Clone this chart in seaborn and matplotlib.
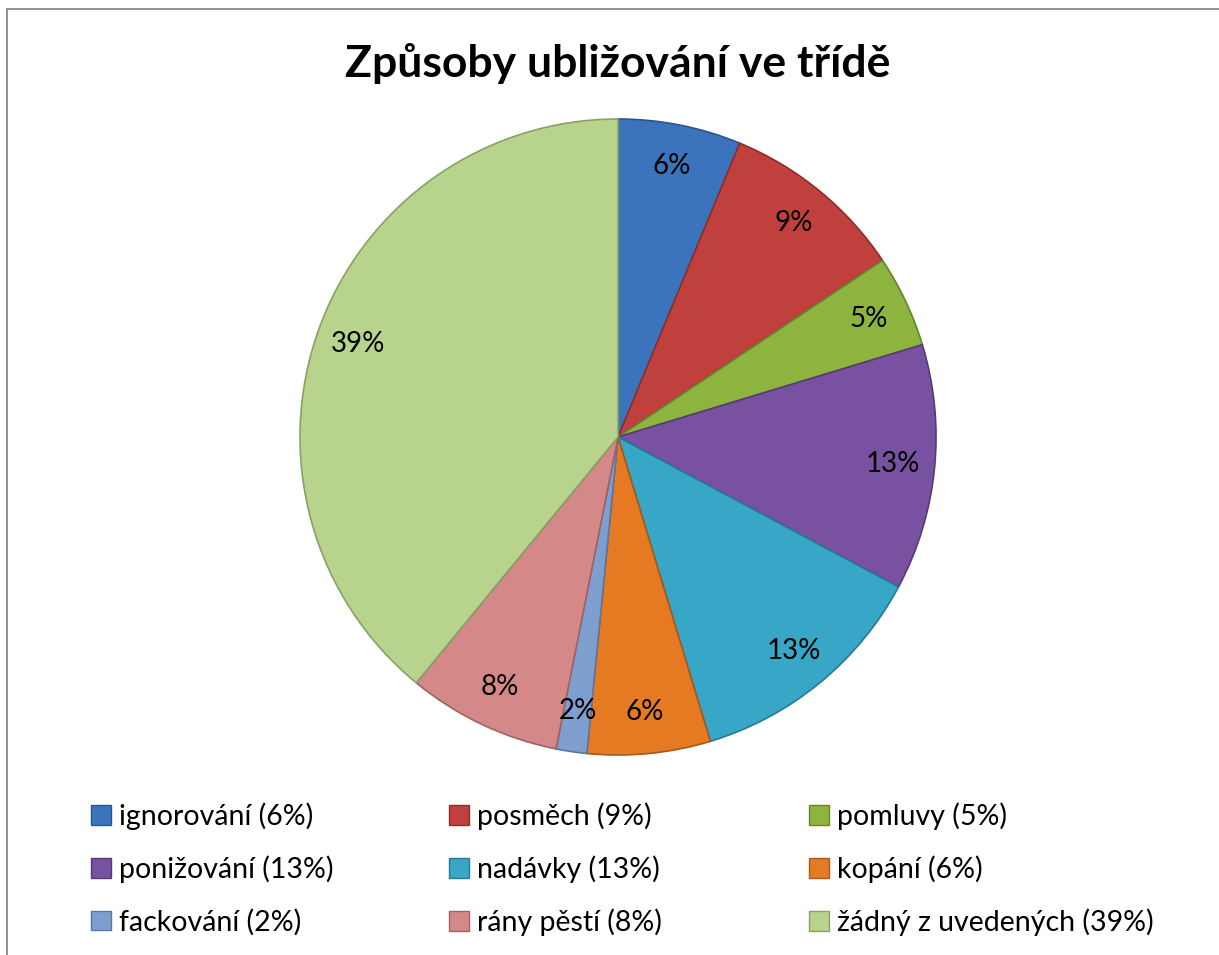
import math
import matplotlib
matplotlib.use("Agg")
import matplotlib.pyplot as plt
from matplotlib.patches import Patch
from matplotlib.lines import Line2D
import seaborn as sns

# answers out of 64 pupils (clockwise from top)
categories = ["ignorování", "posměch", "pomluvy", "ponižování", "nadávky",
              "kopání", "fackování", "rány pěstí", "žádný z uvedených"]
counts = [4, 6, 3, 8, 8, 4, 1, 5, 25]
colors = ["#3b74bd", "#c0403d", "#8db43e", "#7852a0", "#38a6c6",
          "#e57a22", "#7f9ed0", "#d48988", "#b8d48c"]
edges = ["#2a5690", "#8e2e2c", "#66842c", "#563a75", "#267a93",
         "#a9591a", "#5c76a0", "#9e6463", "#8aa066"]

sns.set_theme(style="white")
plt.rcParams["font.family"] = ["Lato", "DejaVu Sans"]
plt.rcParams["text.color"] = "black"

total = sum(counts)
pct = [math.floor(c / total * 100 + 0.5) for c in counts]
legend_labels = [f"{name} ({p}%)" for name, p in zip(categories, pct)]

fig = plt.figure(figsize=(12.19, 9.55), dpi=100)
ax = fig.add_axes([0.2461, 0.2094, 0.5218, 0.666])

wedges, texts, autotexts = ax.pie(
    counts, colors=colors, startangle=90, counterclock=False,
    autopct=lambda p: f"{math.floor(p + 0.5)}%", pctdistance=0.87,
    wedgeprops=dict(linewidth=1.2),
    textprops=dict(fontsize=20, color="black"))
for w, ec in zip(wedges, edges):
    w.set_edgecolor(ec)
ax.set_xlim(-1, 1)
ax.set_ylim(-1, 1)

fig.text(0.507, 0.934, "Způsoby ubližování ve třídě", ha="center", va="center",
         fontsize=32, fontweight="bold", color="black")

# legend: three equal-width columns, rows run left to right
col_x = [0.065, 0.359, 0.654]
for j in range(3):
    idx = [j, j + 3, j + 6]
    handles = [Patch(facecolor=colors[i], edgecolor=edges[i], linewidth=1) for i in idx]
    fig.legend(handles, [legend_labels[i] for i in idx], loc="upper left",
               bbox_to_anchor=(col_x[j], 0.172), frameon=False, fontsize=20.5,
               labelcolor="black", handlelength=0.7, handleheight=0.7,
               handletextpad=0.3, labelspacing=0.9, borderaxespad=0)

# chart border (partly cut off at right and bottom)
fig.add_artist(Line2D([6.5 / 1219, 6.5 / 1219], [0, 1 - 9 / 955], color="#888888", linewidth=1.3))
fig.add_artist(Line2D([6.5 / 1219, 1], [1 - 9 / 955, 1 - 9 / 955], color="#888888", linewidth=1.3))

fig.savefig("out.png", dpi=100)
